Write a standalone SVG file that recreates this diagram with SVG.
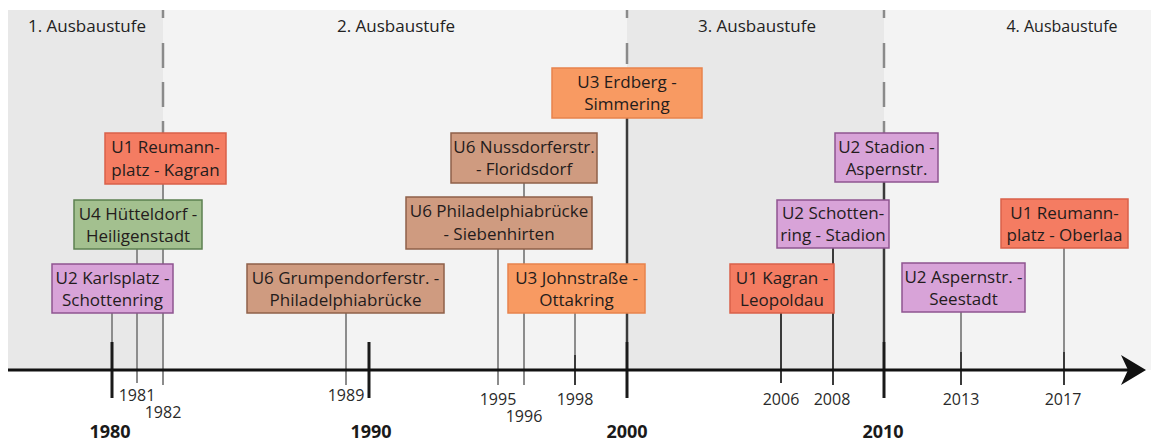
<svg xmlns="http://www.w3.org/2000/svg" width="1151" height="443" viewBox="0 0 1151 443">
<style>
.dk{fill:#e8e8e8}
.lt{fill:#f3f3f3}
.dash{stroke:#8a8a8a;stroke-width:2.5;fill:none}
.dash-p{stroke-dasharray:25 14}
.conn{stroke:#8c8c8c;stroke-width:2;fill:none}
.cdark{stroke:#3a3a3a;stroke-width:2;fill:none}
.tick{stroke:#1a1a1a;stroke-width:3;fill:none}
.node rect{stroke-width:1.5}
.node text{font-family:"Open Sans","Noto Sans","DejaVu Sans",sans-serif;font-size:17px;fill:#241c1c;text-anchor:middle}
.salmon rect{fill:#f47c62;stroke:#d9604a}
.orange rect{fill:#f89a62;stroke:#e8834c}
.tan rect{fill:#cf9b80;stroke:#8f6049}
.green rect{fill:#a3c08f;stroke:#5c8050}
.purple rect{fill:#d8a3d8;stroke:#8e5490}
.yr{font-family:"Open Sans","Noto Sans",sans-serif;font-size:16px;fill:#2a2a2a;text-anchor:middle}
.dec{font-family:"Open Sans","Noto Sans",sans-serif;font-size:18px;font-weight:bold;fill:#1a1a1a;text-anchor:middle}
.stage{font-family:"Open Sans","Noto Sans",sans-serif;font-size:17px;fill:#222;text-anchor:middle}
</style>
<defs>
<marker id="arr" markerUnits="userSpaceOnUse" markerWidth="30" markerHeight="32" refX="7" refY="15" orient="auto" viewBox="0 0 30 32">
<path d="M25,15 L0,0 L7,15 L0,30 Z" fill="#111"/>
</marker>
</defs>
<g id="background">
<rect class="dk" x="8" y="10" width="155" height="360"/>
<rect class="lt" x="163" y="10" width="464" height="360"/>
<rect class="dk" x="627" y="10" width="257" height="360"/>
<rect class="lt" x="884" y="10" width="267" height="360"/>
<text class="stage" x="87" y="32">1. Ausbaustufe</text>
<text class="stage" x="396" y="32">2. Ausbaustufe</text>
<text class="stage" x="757" y="32">3. Ausbaustufe</text>
<text class="stage" x="1062" y="32" style="font-size:16px">4. Ausbaustufe</text>
</g>
<g id="connectors">
<path class="dash" d="M163,10 V18 M627,10 V18 M884,10 V18"/>
<path class="dash dash-p" d="M163,43 V133 M884,43 V133"/>
<path class="dash" d="M627,43 V64"/>
<path class="conn" d="M112,313 V342 M137,249 V383 M163,133 V385 M346,313 V385 M498,249 V385 M524,183 V385 M575,313 V385 M961,312 V385 M1064,248 V385"/>
<path class="cdark" d="M575,355 V385 M961,352 V385 M1064,352 V385 M781,313 V383 M833,248 V385"/>
<path class="cdark" style="stroke-width:2.5" d="M627,118 V342 M884,182 V342"/>
<path class="tick" d="M112,342 V398 M369,342 V398 M627,342 V398 M884,342 V398"/>
<line x1="8" y1="370" x2="1128" y2="370" stroke="#111" stroke-width="3" marker-end="url(#arr)"/>
</g>
<g id="n1" class="node salmon"><rect x="105" y="133" width="121" height="51"/><text x="165.5" y="152.5">U1 Reumann-</text><text x="165.5" y="175.5">platz - Kagran</text></g>
<g id="n2" class="node green"><rect x="74" y="200" width="128" height="49"/><text x="138" y="219.5">U4 Hütteldorf -</text><text x="138" y="241.5">Heiligenstadt</text></g>
<g id="n3" class="node purple"><rect x="52" y="264" width="121" height="49"/><text x="112.5" y="283.5">U2 Karlsplatz -</text><text x="112.5" y="305.5">Schottenring</text></g>
<g id="n4" class="node tan"><rect x="247" y="264" width="197" height="49"/><text x="345.5" y="283.5">U6 Grumpendorferstr. -</text><text x="345.5" y="305.5">Philadelphiabrücke</text></g>
<g id="n5" class="node orange"><rect x="552" y="68" width="150" height="50"/><text x="627" y="87.5">U3 Erdberg -</text><text x="627" y="110">Simmering</text></g>
<g id="n6" class="node tan"><rect x="451" y="133" width="146" height="50"/><text x="524" y="152.5">U6 Nussdorferstr.</text><text x="524" y="175">- Floridsdorf</text></g>
<g id="n7" class="node tan"><rect x="406" y="197" width="186" height="52"/><text x="499" y="217">U6 Philadelphiabrücke</text><text x="499" y="240">- Siebenhirten</text></g>
<g id="n8" class="node orange"><rect x="508" y="264" width="137" height="49"/><text x="576.5" y="283.5">U3 Johnstraße -</text><text x="576.5" y="305.5">Ottakring</text></g>
<g id="n9" class="node salmon"><rect x="730" y="264" width="104" height="49"/><text x="782" y="283.5">U1 Kagran -</text><text x="782" y="305.5">Leopoldau</text></g>
<g id="n10" class="node purple"><rect x="835" y="133" width="103" height="49"/><text x="886.5" y="152.5">U2 Stadion -</text><text x="886.5" y="174.5">Aspernstr.</text></g>
<g id="n11" class="node purple"><rect x="777" y="200" width="112" height="48"/><text x="833" y="219">U2 Schotten-</text><text x="833" y="241">ring - Stadion</text></g>
<g id="n12" class="node salmon"><rect x="1001" y="199" width="127" height="49"/><text x="1064.5" y="218.5">U1 Reumann-</text><text x="1064.5" y="240.5">platz - Oberlaa</text></g>
<g id="n13" class="node purple"><rect x="902" y="263" width="123" height="49"/><text x="963.5" y="282.5">U2 Aspernstr. -</text><text x="963.5" y="304.5">Seestadt</text></g>
<g id="labels">
<text class="yr" x="137" y="401">1981</text>
<text class="yr" x="163" y="418">1982</text>
<text class="yr" x="346" y="401">1989</text>
<text class="yr" x="498" y="405">1995</text>
<text class="yr" x="524" y="422">1996</text>
<text class="yr" x="575" y="405">1998</text>
<text class="yr" x="781" y="405">2006</text>
<text class="yr" x="832" y="405">2008</text>
<text class="yr" x="961" y="405">2013</text>
<text class="yr" x="1063" y="405">2017</text>
<text class="dec" x="110" y="438">1980</text>
<text class="dec" x="371" y="438">1990</text>
<text class="dec" x="627" y="438">2000</text>
<text class="dec" x="883" y="438">2010</text>
</g>
</svg>
